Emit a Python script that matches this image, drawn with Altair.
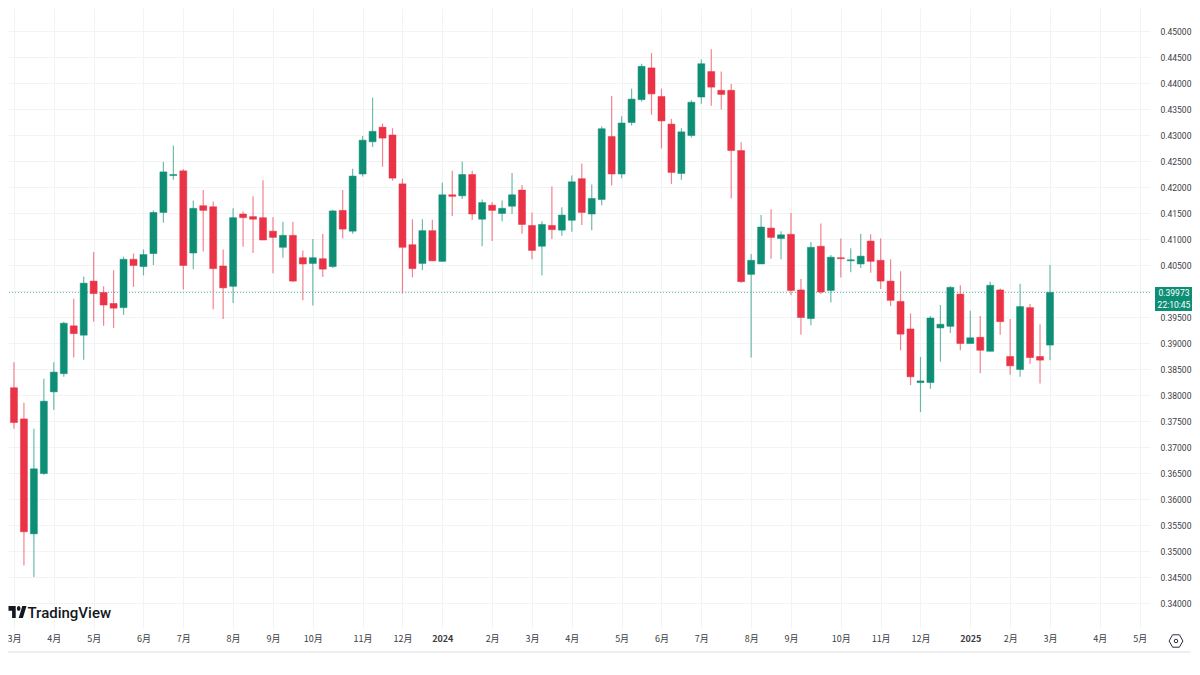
import altair as alt
import pandas as pd

opens = [
0.3785,0.3814,0.3754,0.3533,0.3649,0.3806,0.3841,0.3933,0.3915,0.4019,
0.3997,0.3976,0.3968,0.4061,0.4047,0.4072,0.4151,0.4222,0.4231,0.4073,
0.4164,0.4162,0.4048,0.4009,0.4148,0.4143,0.4141,0.4115,0.4084,0.4107,
0.4064,0.4053,0.4062,0.4047,0.4155,0.4115,0.4225,0.4287,0.4315,0.4300,
0.4206,0.4089,0.4053,0.4116,0.4057,0.4185,0.4183,0.4224,0.4138,0.4165,
0.4149,0.4163,0.4194,0.4126,0.4086,0.4126,0.4117,0.4136,0.4216,0.4148,
0.4176,0.4297,0.4225,0.4324,0.4368,0.4429,0.4374,0.4321,0.4226,0.4299,
0.4373,0.4422,0.4386,0.4386,0.4270,0.4032,0.4052,0.4121,0.4101,0.4109,
0.4002,0.3947,0.4086,0.4001,0.4064,0.4058,0.4052,0.4096,0.4059,0.4019,
0.3980,0.3927,0.3824,0.3824,0.3929,0.3932,0.3994,0.3899,0.3911,0.3884,
0.4002,0.3874,0.3849,0.3968,0.3874,0.3896]
closes = [
0.3808,0.3747,0.3537,0.3658,0.3788,0.3844,0.3938,0.3918,0.4015,0.3995,
0.3973,0.3967,0.4061,0.4049,0.4070,0.4151,0.4229,0.4224,0.4049,0.4159,
0.4155,0.4043,0.4006,0.4141,0.4141,0.4138,0.4098,0.4103,0.4107,0.4019,
0.4052,0.4064,0.4042,0.4154,0.4119,0.4221,0.4290,0.4307,0.4294,0.4217,
0.4084,0.4043,0.4116,0.4058,0.4185,0.4182,0.4224,0.4148,0.4170,0.4155,
0.4159,0.4185,0.4128,0.4078,0.4128,0.4118,0.4146,0.4210,0.4151,0.4178,
0.4312,0.4225,0.4323,0.4369,0.4432,0.4379,0.4327,0.4228,0.4306,0.4363,
0.4437,0.4392,0.4378,0.4270,0.4018,0.4059,0.4123,0.4103,0.4108,0.4001,
0.3949,0.4084,0.3998,0.4065,0.4062,0.4060,0.4067,0.4057,0.4019,0.3982,
0.3917,0.3835,0.3827,0.3948,0.3936,0.4007,0.3899,0.3910,0.3886,0.4011,
0.3941,0.3856,0.3970,0.3872,0.3867,0.39973]
highs = [
0.3901,0.3863,0.3785,0.3735,0.3831,0.3863,0.3941,0.3985,0.4028,0.4075,
0.4009,0.4040,0.4066,0.4072,0.4080,0.4155,0.4248,0.4280,0.4234,0.4174,
0.4194,0.4172,0.4080,0.4159,0.4153,0.4182,0.4213,0.4142,0.4133,0.4133,
0.4078,0.4100,0.4110,0.4156,0.4194,0.4235,0.4298,0.4372,0.4322,0.4313,
0.4216,0.4138,0.4138,0.4137,0.4208,0.4231,0.4249,0.4231,0.4176,0.4171,
0.4174,0.4227,0.4204,0.4151,0.4134,0.4201,0.4161,0.4222,0.4245,0.4205,
0.4317,0.4375,0.4336,0.4389,0.4437,0.4458,0.4389,0.4331,0.4313,0.4367,
0.4445,0.4465,0.4422,0.4398,0.4286,0.4071,0.4146,0.4157,0.4115,0.4150,
0.4023,0.4094,0.4130,0.4069,0.4101,0.4082,0.4110,0.4109,0.4101,0.4061,
0.4038,0.3957,0.3873,0.3952,0.3973,0.4009,0.4011,0.3962,0.3952,0.4018,
0.4005,0.3946,0.4014,0.3975,0.3936,0.4050]
lows = [
0.3767,0.3735,0.3472,0.3450,0.3646,0.3771,0.3835,0.3872,0.3868,0.3941,
0.3933,0.3929,0.3954,0.4008,0.4030,0.4050,0.4131,0.4214,0.4003,0.4042,
0.4076,0.3965,0.3946,0.3977,0.4085,0.4073,0.4098,0.4034,0.4064,0.4018,
0.3982,0.3972,0.4027,0.4044,0.4101,0.4110,0.4220,0.4277,0.4239,0.4212,
0.3995,0.4026,0.4040,0.4057,0.4056,0.4144,0.4177,0.4137,0.4086,0.4096,
0.4134,0.4148,0.4110,0.4061,0.4030,0.4100,0.4106,0.4114,0.4127,0.4117,
0.4165,0.4203,0.4217,0.4318,0.4364,0.4339,0.4274,0.4206,0.4214,0.4295,
0.4360,0.4356,0.4349,0.4178,0.4016,0.3872,0.4052,0.4062,0.4061,0.3992,
0.3916,0.3934,0.3994,0.3978,0.4026,0.4036,0.4044,0.4035,0.4004,0.3971,
0.3886,0.3819,0.3767,0.3812,0.3864,0.3919,0.3886,0.3899,0.3842,0.3884,
0.3916,0.3839,0.3835,0.3860,0.3822,0.3867]

month_weeks = [1,5,9,14,18,23,27,31,36,40,44,49,53,57,62,66,70,75,79,84,88,92,97,101,105,110,114]
month_labels = ["3月","4月","5月","6月","7月","8月","9月","10月","11月","12月","2024","2月","3月","4月",
                "5月","6月","7月","8月","9月","10月","11月","12月","2025","2月","3月","4月","5月"]
price_ticks = [0.34,0.345,0.35,0.355,0.36,0.365,0.37,0.375,0.38,0.385,0.39,0.395,0.40,
               0.405,0.41,0.415,0.42,0.425,0.43,0.435,0.44,0.445,0.45]
last_price = 0.39973
countdown = "22:10:45"

GREEN, RED = "#0e8f75", "#ea3347"
GRID = "#f2f3f5"
TEXT = "#3a3d45"
FONT = "Noto Sans CJK SC"

df = pd.DataFrame({"week": range(len(opens)), "open": opens, "close": closes, "high": highs, "low": lows})
df["dir"] = ["up" if c >= o else "down" for o, c in zip(opens, closes)]

label_map = "{" + ",".join(f"'{w}':'{l}'" for w, l in zip(month_weeks, month_labels)) + "}"

x_scale = alt.Scale(domain=[0.4015, 115.04], nice=False, zero=False, padding=0)
y_scale = alt.Scale(domain=[0.33519, 0.45442], nice=False, zero=False)

x_axis = alt.Axis(values=month_weeks, labelExpr=f"{label_map}[datum.value]", title=None, grid=True,
                  gridColor=GRID, gridWidth=1, domain=False, ticks=False, labelPadding=6,
                  labelFontSize=9, labelColor=TEXT, labelFont=FONT, labelOverlap=False, labelFlush=False,
                  labelFontWeight={"condition": {"test": "datum.value==44||datum.value==97", "value": "bold"}, "value": "normal"})
y_axis = alt.Axis(values=price_ticks, orient="right", title=None, grid=True, gridColor=GRID,
                  labelExpr="abs(datum.value-0.4)<0.000001 ? '' : format(datum.value,'.5f')",
                  gridWidth=1, domain=False, ticks=False, labelPadding=10, labelFontSize=8.5, labelColor=TEXT,
                  labelFont="Roboto", labelOverlap=False, labelOffset=1)
color = alt.Color("dir:N", scale=alt.Scale(domain=["up", "down"], range=[GREEN, RED]), legend=None)

base = alt.Chart(df)
wicks = base.mark_rule(strokeWidth=1.2, opacity=0.6).encode(
    x=alt.X("week:Q", scale=x_scale, axis=x_axis),
    y=alt.Y("low:Q", scale=y_scale, axis=y_axis), y2="high:Q", color=color)
bodies = base.mark_bar(size=7, orient="vertical", strokeWidth=0.5).encode(
    x=alt.X("week:Q", scale=x_scale, axis=x_axis),
    y=alt.Y("open:Q", scale=y_scale, axis=y_axis), y2="close:Q", color=color, stroke=color)

last_line = alt.Chart(pd.DataFrame({"p": [last_price]})).mark_rule(
    color="#5cb8a5", strokeWidth=1, strokeDash=[1, 2]).encode(y=alt.Y("p:Q", scale=y_scale, axis=y_axis))

bottom_line = alt.Chart(pd.DataFrame({"a": [0]})).mark_rule(color="#e8e9eb", strokeWidth=1.5).encode(
    x=alt.value(0), x2=alt.value(1182), y=alt.value(644))

tag = alt.Chart(pd.DataFrame({"a": [0]})).mark_rect(color=GREEN).encode(
    x=alt.value(1147), x2=alt.value(1184), y=alt.value(279), y2=alt.value(303))
tag_price = alt.Chart(pd.DataFrame({"t": [f"{last_price:.5f}"]})).mark_text(
    color="white", font="Roboto", fontSize=8.5, align="center", baseline="middle").encode(
    x=alt.value(1166), y=alt.value(285), text="t:N")
tag_time = alt.Chart(pd.DataFrame({"t": [countdown]})).mark_text(
    color="white", font="Roboto", fontSize=8.5, align="center", baseline="middle").encode(
    x=alt.value(1166), y=alt.value(297), text="t:N")

logo_path = ("M-3,-10 H-15 V-2 H-9 V10 H-3 Z M9,10 H2 L8,-10 H15 L9,10 Z "
             "M2,-2 A3,4 0 1 0 2,-10 A3,4 0 0 0 2,-2 Z")
logo = alt.Chart(pd.DataFrame({"a": [0]})).mark_point(
    shape=logo_path, size=1.44, filled=True, color="#131722", opacity=1, strokeWidth=0).encode(
    x=alt.value(9.5), y=alt.value(604))
logo_text = alt.Chart(pd.DataFrame({"t": ["TradingView"]})).mark_text(
    color="#131722", font="Roboto", fontSize=15, fontWeight=500, align="left", baseline="middle").encode(
    x=alt.value(19.5), y=alt.value(605), text="t:N")

hex_path = "M-5,-9 L5,-9 L10,0 L5,9 L-5,9 L-10,0 Z"
gear = alt.Chart(pd.DataFrame({"a": [0]})).mark_point(
    shape=hex_path, size=1.9, filled=False, color="#2a2e39", strokeWidth=1, opacity=1).encode(
    x=alt.value(1168), y=alt.value(633))
gear_dot = alt.Chart(pd.DataFrame({"a": [0]})).mark_point(
    shape="circle", size=12, filled=False, color="#2a2e39", strokeWidth=1, opacity=1).encode(
    x=alt.value(1168), y=alt.value(633))

chart = alt.layer(wicks, last_line, bodies, bottom_line, tag, tag_price, tag_time,
                  logo, logo_text, gear, gear_dot).properties(
    width=1142, height=620,
    padding={"left": 0, "top": 0, "right": 42, "bottom": 40},
    autosize=alt.AutoSizeParams(type="none"),
    background="white",
).configure_view(stroke=None)

chart.save("out.html", embed_options={"renderer": "svg", "actions": False})
